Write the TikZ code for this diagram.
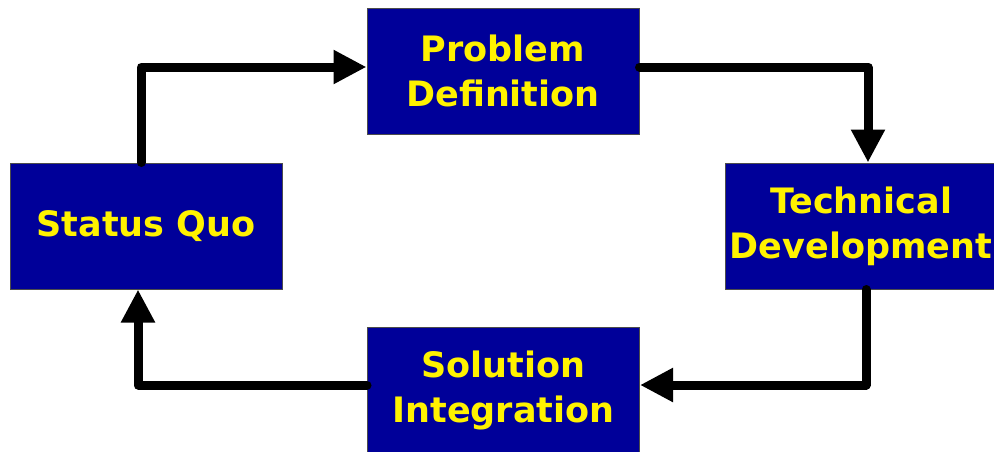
\documentclass[tikz,border=0pt]{standalone}
\usepackage{fontspec}
\setmainfont{DejaVu Sans}
\usepackage{xcolor}
\usetikzlibrary{arrows.meta}
\definecolor{boxblue}{RGB}{0,0,153}

\begin{document}
\begin{tikzpicture}[x=1pt,y=-1pt,
  box/.style={draw=black!70,line width=1pt,fill=boxblue,text=yellow,
    font=\bfseries\fontsize{35}{45}\selectfont,align=center,
    minimum width=272pt,minimum height=126pt,inner sep=0pt},
  flow/.style={line width=9pt,line cap=round,line join=round,
    -{Triangle[length=33pt,width=32pt]}}]
  \useasboundingbox (0,0) rectangle (994,451);

  \node[box] (pd) at (503,71) {Problem\\Definition};
  \node[box] (sq) at (146,226) {Status Quo};
  \node[box] (td) at (861,226) {Technical\\Development};
  \node[box] (si) at (503.5,390) {Solution\\Integration};

  % corners of the loop
  \coordinate (tl) at (141,67);
  \coordinate (tr) at (868,67);
  \coordinate (br) at (866,385);
  \coordinate (bl) at (138,385);

  \draw[flow] (sq.north -| tl) -- (tl) -- (tl -| pd.west);
  \draw[flow] (tr -| pd.east) -- (tr) -- (tr |- td.north);
  \draw[flow] (td.south -| br) -- (br) -- (br -| si.east);
  \draw[flow] (bl -| si.west) -- (bl) -- (bl |- sq.south);
\end{tikzpicture}
\end{document}
